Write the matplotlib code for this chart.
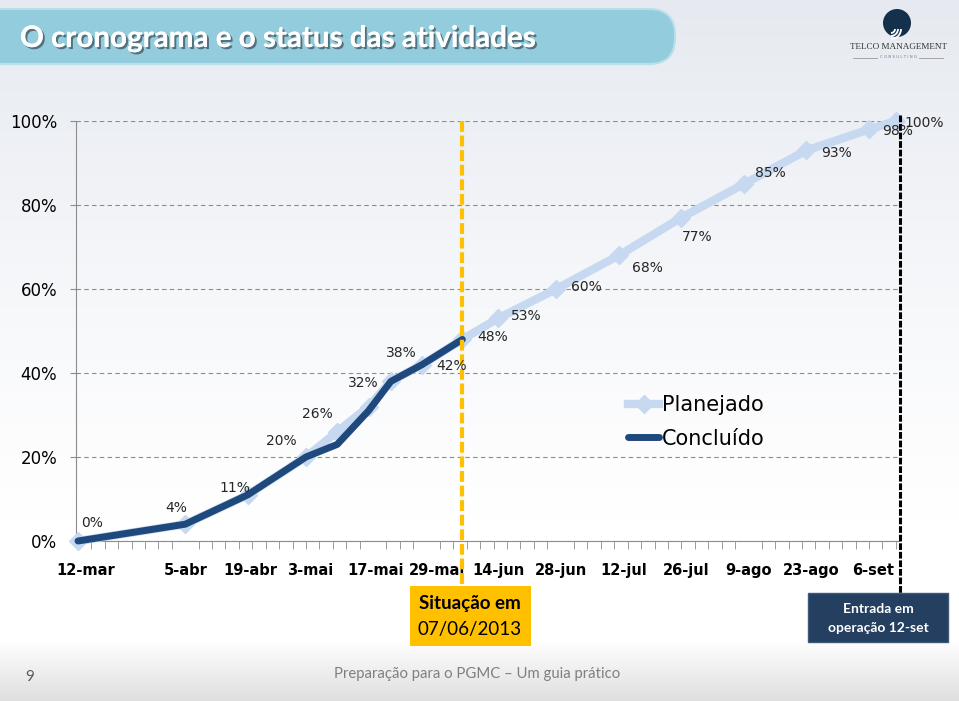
import numpy as np
import matplotlib
matplotlib.use("Agg")
import matplotlib.pyplot as plt
import matplotlib.patches as mpatches
import matplotlib.patheffects as pe
from matplotlib.ticker import FixedLocator, MultipleLocator, FuncFormatter
from matplotlib.transforms import ScaledTranslation

# data
start = np.datetime64('2013-03-12')
plan_dates = ['2013-03-12', '2013-04-05', '2013-04-19', '2013-05-02', '2013-05-09',
              '2013-05-16', '2013-05-21', '2013-05-28', '2013-06-06', '2013-06-14',
              '2013-06-27', '2013-07-11', '2013-07-25', '2013-08-08', '2013-08-22',
              '2013-09-05', '2013-09-11']
plan_pct = [0, 4, 11, 20, 26, 32, 38, 42, 48, 53, 60, 68, 77, 85, 93, 98, 100]
done_dates = plan_dates[:9]
done_pct = [0, 4, 11, 20, 23, 31, 38, 42, 48]
tick_dates = ['2013-03-12', '2013-04-05', '2013-04-19', '2013-05-03', '2013-05-17',
              '2013-05-29', '2013-06-14', '2013-06-28', '2013-07-12', '2013-07-26',
              '2013-08-09', '2013-08-23', '2013-09-06']
tick_text = ['12-mar', '5-abr', '19-abr', '3-mai', '17-mai', '29-mai', '14-jun',
             '28-jun', '12-jul', '26-jul', '9-ago', '23-ago', '6-set']
go_live = '2013-09-12'

def days(d):
    return (np.array(d, dtype='datetime64[D]') - start).astype(int)

px_x = days(plan_dates)
dx = days(done_dates)
W, H = 959, 701

fig = plt.figure(figsize=(W / 100, H / 100), dpi=100)

# slide background, pixel coords
bg = fig.add_axes([0, 0, 1, 1])
bg.set_xlim(0, W)
bg.set_ylim(H, 0)
bg.axis('off')
ys = np.array([0, 110, 330, 520, 640, 701])
cs = np.array([[230, 234, 240], [236, 239, 244], [248, 249, 251],
               [255, 255, 255], [255, 255, 255], [222, 222, 222]]) / 255
yy = np.arange(H)
grad = np.stack([np.interp(yy, ys, cs[:, k]) for k in range(3)], axis=1)
bg.imshow(grad[:, None, :].repeat(2, axis=1), extent=(0, W, H, 0), aspect='auto', zorder=0)

# title banner
banner = mpatches.FancyBboxPatch((-40, 9), 715, 55, boxstyle='round,pad=0,rounding_size=26',
                                 fc='#93cddd', ec='#b9dfe9', lw=1.5, zorder=1)
bg.add_patch(banner)
bg.text(20, 38, 'O cronograma e o status das atividades', family='Lato', weight='bold',
        fontsize=21.3, color='white', va='center', zorder=2,
        path_effects=[pe.withSimplePatchShadow(offset=(1.5, -1.5), shadow_rgbFace='#3a4a55', alpha=0.7),
                      pe.Normal()])

# logo
bg.add_patch(mpatches.Circle((897, 23), 14, fc='#15304a', zorder=2))
for r in [4, 7, 10]:
    bg.add_patch(mpatches.Arc((891, 29), 2 * r, 2 * r, theta1=0, theta2=90, color='white', lw=1.3, zorder=3))
bg.text(898, 47, 'TELCO MANAGEMENT', family='Liberation Serif', fontsize=6.6, color='#333333',
        ha='center', va='center', zorder=2)
bg.text(898, 57.5, 'C O N S U L T I N G', family='DejaVu Sans', fontsize=2.8, color='#777777',
        ha='center', va='center', zorder=2)
bg.plot([853, 877], [57.5, 57.5], color='#999999', lw=0.6, zorder=2)
bg.plot([919, 943], [57.5, 57.5], color='#999999', lw=0.6, zorder=2)

# boxes under the chart
bg.add_patch(mpatches.Rectangle((410, 586), 121, 60, fc='#ffc000', ec='none', zorder=2))
bg.text(470, 604, 'Situação em', family='Lato', weight='bold', fontsize=13.5, ha='center', va='center', zorder=3)
bg.text(470, 630, '07/06/2013', family='Lato', fontsize=13.5, ha='center', va='center', zorder=3)
bg.add_patch(mpatches.Rectangle((808, 593), 140, 49, fc='#243f60', ec='#3d5a7c', lw=1, zorder=2))
bg.text(878, 609, 'Entrada em', family='Lato', weight='bold', fontsize=10, color='white',
        ha='center', va='center', zorder=3)
bg.text(878, 628, 'operação 12-set', family='Lato', weight='bold', fontsize=10, color='white',
        ha='center', va='center', zorder=3)

# footer
bg.text(30, 677, '9', family='Lato', fontsize=11, color='#595959', ha='center', va='center')
bg.text(477, 674, 'Preparação para o PGMC – Um guia prático', family='Lato', fontsize=10.7,
        color='#7f7f7f', ha='center', va='center')

# chart
ax = fig.add_axes([76 / W, (H - 541) / H, (899 - 76) / W, (541 - 121) / H])
ax.patch.set_alpha(0)
ax.set_xlim(-0.45, 183.7)
ax.set_ylim(0, 100)

ax.plot(px_x, plan_pct, color='#c6d9f1', lw=6, marker='D', ms=9, mec='#c6d9f1',
        solid_joinstyle='round', label='Planejado', zorder=3, clip_on=False)
ax.plot(dx, done_pct, color='#1f497d', lw=5, solid_joinstyle='round',
        solid_capstyle='round', label='Concluído', zorder=4, clip_on=False)

# data label offsets in pixels (right, up)
offs = [(14, 18), (-9, 16), (-13, 7), (-25, 16), (-20, 18), (-5, 24), (10, 28), (29, -1),
        (30, 2), (28, 2), (30, 2), (29, -13), (16, -19), (26, 11), (30, -3), (29, -2), (28, -2)]
for x, y, o in zip(px_x, plan_pct, offs):
    ax.annotate(f'{y}%', (x, y), xytext=o, textcoords='offset pixels', ha='center', va='center',
                fontsize=10, color='#262626', zorder=6, annotation_clip=False)

# status line and go-live line
ax.plot([dx[-1], dx[-1]], [100, -10.7], color='#ffc000', lw=3, dashes=(2.6, 0.9),
        clip_on=False, zorder=5)
gx = days([go_live])[0]
ax.plot([gx, gx], [101.5, -12.4], color='black', lw=2.2, dashes=(2.2, 0.6),
        clip_on=False, zorder=5)

ax.yaxis.set_major_locator(MultipleLocator(20))
ax.yaxis.set_major_formatter(FuncFormatter(lambda v, p: f'{v:.0f}%'))
ax.grid(axis='y', color='#8c8c8c', lw=0.8, ls=(0, (4, 3)))
ax.set_axisbelow(True)
ax.xaxis.set_major_locator(FixedLocator(days(tick_dates)))
ax.set_xticklabels(tick_text, fontsize=10.5, weight='bold')
ax.xaxis.set_minor_locator(MultipleLocator(3))
ax.tick_params(axis='x', which='major', length=0, pad=16)
ax.tick_params(axis='x', which='minor', length=6, color='#8c8c8c', direction='out')
ax.tick_params(axis='y', length=4, color='#8c8c8c', labelsize=12, pad=9.5)
for s in ['top', 'right']:
    ax.spines[s].set_visible(False)
for s in ['left', 'bottom']:
    ax.spines[s].set_color('#8c8c8c')

# nudge crowded labels as in the original
label_shift = {'12-mar': 8, '29-mai': 10, '19-abr': 2, '17-mai': 3}
for lab in ax.get_xticklabels():
    s = label_shift.get(lab.get_text(), 0)
    if s:
        lab.set_transform(lab.get_transform() + ScaledTranslation(s / 100, 0, fig.dpi_scale_trans))

leg = ax.legend(loc='upper left', bbox_to_anchor=(628 / W, (H - 395) / H), bbox_transform=fig.transFigure,
                frameon=False, fontsize=15, handlelength=1.5, handletextpad=0.12, labelspacing=0.65,
                borderpad=0, borderaxespad=0, numpoints=1)

fig.savefig('out.png', dpi=100)
